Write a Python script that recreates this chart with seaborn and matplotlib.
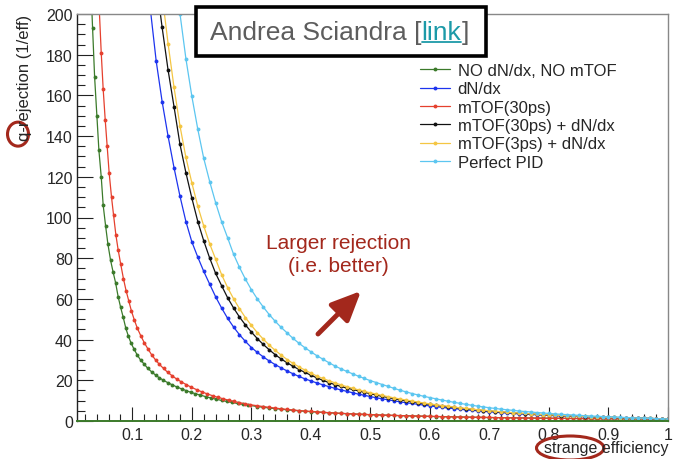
import matplotlib
matplotlib.use("Agg")
import matplotlib.pyplot as plt
import seaborn as sns
from matplotlib.patches import Ellipse, Rectangle
from matplotlib.lines import Line2D
from matplotlib.ticker import MultipleLocator

# ---- data ----
SERIES_NAMES = ["NO dN/dx, NO mTOF", "dN/dx", "mTOF(30ps)",
                "mTOF(30ps) + dN/dx", "mTOF(3ps) + dN/dx", "Perfect PID"]
SERIES_COLORS = ["#3b7a2a", "#1d34ee", "#e5402e", "#111111", "#f4c643", "#5cc6f0"]

# common fine efficiency grid (0.13 ... 1.00)
EFF_FINE = [0.13, 0.14, 0.15, 0.16, 0.17, 0.18, 0.19, 0.20, 0.21, 0.22,
            0.23, 0.24, 0.25, 0.26, 0.27, 0.28, 0.29, 0.30, 0.31, 0.32,
            0.33, 0.34, 0.35, 0.36, 0.37, 0.38, 0.39, 0.40, 0.41, 0.42,
            0.43, 0.44, 0.45, 0.46, 0.47, 0.48, 0.49, 0.50, 0.51, 0.52,
            0.53, 0.54, 0.55, 0.56, 0.57, 0.58, 0.59, 0.60, 0.61, 0.62,
            0.63, 0.64, 0.65, 0.66, 0.67, 0.68, 0.69, 0.70, 0.71, 0.72,
            0.73, 0.74, 0.75, 0.76, 0.77, 0.78, 0.79, 0.80, 0.81, 0.82,
            0.83, 0.84, 0.85, 0.86, 0.87, 0.88, 0.89, 0.90, 0.91, 0.92,
            0.93, 0.94, 0.95, 0.96, 0.97, 0.98, 0.99, 1.00]

green_head_eff = [0.0318, 0.0332, 0.0366, 0.0404, 0.0438, 0.0477, 0.0510, 0.0550,
                  0.0589, 0.0634, 0.0678, 0.0718, 0.0762, 0.0802, 0.0846, 0.0891,
                  0.0930, 0.0975, 0.1025, 0.1081, 0.1137, 0.1198, 0.1255, 0.1322,
                  0.1389, 0.1450, 0.1523, 0.1591, 0.1668, 0.1742, 0.1826, 0.1909,
                  0.1982, 0.2060, 0.2145, 0.2230, 0.2320, 0.2410, 0.2500, 0.2590,
                  0.2680, 0.2770, 0.2860, 0.2950]
green_head_rej = [203, 193, 169, 150, 133, 120, 106, 96,
                  87, 79, 73, 68, 61, 56, 51, 45.5,
                  42, 38.5, 35.5, 32.5, 30, 28, 26, 24.2,
                  22.6, 21.3, 20, 18.9, 17.8, 16.8, 15.8, 14.9,
                  14.1, 13.4, 12.7, 12.0, 11.3, 10.7, 10.1, 9.6,
                  9.1, 8.6, 8.2, 7.8]
green_tail_rej = [7.1, 6.75, 6.4, 6.1, 5.8, 5.5, 5.25, 5.0, 4.78, 4.58,
                  4.39, 4.2, 4.03, 3.87, 3.72, 3.58, 3.44, 3.32, 3.2, 3.09,
                  2.99, 2.89, 2.8, 2.71, 2.63, 2.55, 2.47, 2.4, 2.33, 2.26,
                  2.19, 2.13, 2.07, 2.01, 1.95, 1.9, 1.85, 1.8, 1.75, 1.7,
                  1.66, 1.62, 1.58, 1.54, 1.5, 1.47, 1.43, 1.4, 1.37, 1.34,
                  1.31, 1.28, 1.26, 1.23, 1.21, 1.18, 1.16, 1.14, 1.12, 1.1,
                  1.08, 1.06, 1.05, 1.04, 1.03, 1.02, 1.01, 1.0, 1.0, 1.0]

red_head_eff = [0.0440, 0.0477, 0.0510, 0.0544, 0.0577, 0.0610, 0.0650, 0.0685,
                0.0723, 0.0762, 0.0805, 0.0850, 0.0895, 0.0940, 0.0985, 0.1035,
                0.1085, 0.1140, 0.1200, 0.1260, 0.1325, 0.1390, 0.1455, 0.1525,
                0.1595, 0.1670, 0.1745, 0.1825, 0.1905, 0.1990, 0.2080, 0.2170,
                0.2260, 0.2350, 0.2440, 0.2530, 0.2620, 0.2710, 0.2800, 0.2890,
                0.2980]
red_head_rej = [205, 181, 163, 148, 135, 122, 110, 101,
                91.5, 84, 77, 70, 64, 59, 54, 49.5,
                45.5, 42, 38.5, 35.5, 32.5, 30, 27.8, 25.8,
                23.9, 22.2, 20.6, 19.2, 17.9, 16.6, 15.4, 14.3,
                13.3, 12.4, 11.6, 10.9, 10.2, 9.6, 9.0, 8.5,
                8.0]
red_tail_rej = [7.5, 7.1, 6.7, 6.35, 6.0, 5.7, 5.4, 5.15, 4.9, 4.7,
                4.5, 4.3, 4.12, 3.95, 3.8, 3.65, 3.5, 3.38, 3.26, 3.15,
                3.05, 2.95, 2.85, 2.76, 2.67, 2.59, 2.51, 2.43, 2.36, 2.29,
                2.22, 2.16, 2.1, 2.04, 1.98, 1.93, 1.88, 1.83, 1.78, 1.73,
                1.69, 1.65, 1.61, 1.57, 1.53, 1.5, 1.46, 1.43, 1.4, 1.37,
                1.34, 1.31, 1.28, 1.26, 1.23, 1.21, 1.18, 1.16, 1.14, 1.12,
                1.1, 1.08, 1.06, 1.05, 1.04, 1.03, 1.02, 1.01, 1.0, 1.0]

# dN/dx, from eff = 0.13
blue_rej = [203, 177, 157, 140, 124.5, 110.5, 98, 88, 80.5, 73.5,
            67.2, 61, 55.5, 50.5, 46.2, 42.4, 39.1, 36.1, 33.7, 31.5,
            29.5, 27.7, 26.1, 24.6, 23.2, 21.9, 20.7, 19.7, 18.7, 17.8,
            16.9, 16.1, 15.3, 14.6, 13.9, 13.2, 12.6, 12.0, 11.4, 10.9,
            10.4, 9.9, 9.4, 9.0, 8.6, 8.2, 7.8, 7.4, 7.05, 6.7,
            6.4, 6.1, 5.8, 5.5, 5.25, 5.0, 4.75, 4.5, 4.3, 4.1,
            3.9, 3.7, 3.5, 3.35, 3.2, 3.05, 2.9, 2.75, 2.6, 2.5,
            2.4, 2.3, 2.2, 2.1, 2.0, 1.9, 1.82, 1.75, 1.68, 1.6,
            1.52, 1.45, 1.38, 1.3, 1.22, 1.15, 1.08, 1.0]
# mTOF(30ps) + dN/dx, from eff = 0.14
black_rej = [216, 193.5, 172.5, 154.5, 136, 122, 109.5, 98, 88.5, 80, 72.5,
             66.5, 60.6, 55.6, 51.1, 47.2, 43.7, 40.5, 37.6, 35.0, 32.6,
             30.5, 28.6, 26.9, 25.3, 23.9, 22.5, 21.2, 20.0, 18.9, 17.9,
             17.0, 16.2, 15.5, 14.8, 14.1, 13.4, 12.75, 12.1, 11.5, 10.95,
             10.4, 9.9, 9.45, 9.0, 8.55, 8.15, 7.75, 7.35, 7.0, 6.65,
             6.3, 6.0, 5.7, 5.4, 5.15, 4.9, 4.65, 4.4, 4.2, 4.0,
             3.8, 3.6, 3.42, 3.25, 3.1, 2.95, 2.8, 2.67, 2.55, 2.43,
             2.32, 2.21, 2.1, 2.0, 1.9, 1.82, 1.74, 1.66, 1.58, 1.5,
             1.42, 1.34, 1.26, 1.17, 1.09, 1.0]
# mTOF(3ps) + dN/dx, from eff = 0.15
yellow_rej = [209.5, 185.5, 164, 145, 129.5, 117, 105.5, 95.8, 87, 79.5,
              71.9, 65.6, 60.1, 55.2, 50.8, 47.0, 43.4, 40.2, 37.3, 34.7,
              32.4, 30.2, 28.3, 26.6, 25.0, 23.5, 22.1, 20.9, 19.8, 18.8,
              17.8, 16.9, 16.1, 15.3, 14.55, 13.85, 13.2, 12.55, 11.95, 11.35,
              10.8, 10.3, 9.8, 9.3, 8.85, 8.4, 8.0, 7.6, 7.22, 6.86,
              6.5, 6.18, 5.87, 5.57, 5.3, 5.04, 4.79, 4.54, 4.32, 4.1,
              3.9, 3.7, 3.52, 3.35, 3.18, 3.03, 2.88, 2.74, 2.61, 2.49,
              2.37, 2.26, 2.15, 2.04, 1.94, 1.85, 1.76, 1.68, 1.6, 1.52,
              1.44, 1.35, 1.27, 1.18, 1.09, 1.0]
# Perfect PID, from eff = 0.17
cyan_rej = [222, 200.2, 178, 159.5, 143.3, 129, 117.6, 107.2, 97.9, 90.1,
            82, 75.5, 69.7, 64.5, 60.0, 56.0, 52.3, 49.0, 46.0, 43.3,
            40.6, 38.2, 36.0, 34.0, 32.1, 30.4, 28.7, 27.1, 25.7, 24.4,
            23.2, 22.0, 20.9, 19.8, 18.9, 17.9, 17.0, 16.0, 15.1, 14.3,
            13.5, 12.8, 12.1, 11.5, 10.9, 10.3, 9.75, 9.2, 8.7, 8.2,
            7.75, 7.3, 6.9, 6.5, 6.15, 5.8, 5.5, 5.2, 4.9, 4.65,
            4.4, 4.15, 3.92, 3.7, 3.5, 3.3, 3.12, 2.95, 2.78, 2.62,
            2.47, 2.33, 2.19, 2.06, 1.94, 1.82, 1.71, 1.6, 1.5, 1.4,
            1.3, 1.2, 1.1, 1.0]

X_TICKS = [0.1, 0.2, 0.3, 0.4, 0.5, 0.6, 0.7, 0.8, 0.9, 1.0]
X_TICK_LABELS = ["0.1", "0.2", "0.3", "0.4", "0.5", "0.6", "0.7", "0.8", "0.9", "1"]
Y_TICKS = [0, 20, 40, 60, 80, 100, 120, 140, 160, 180, 200]

W, H = 673, 460
DARK_RED = "#a3281c"


def fig_xy(x, y):
    """pixel position (from top-left) -> figure fraction"""
    return x / W, 1 - y / H


sns.set_style("ticks")
plt.rcParams["font.family"] = ["Liberation Sans", "DejaVu Sans"]

fig = plt.figure(figsize=(W / 100, H / 100), dpi=100)
ax = fig.add_axes([77 / W, 1 - 422 / H, (668 - 77) / W, (422 - 15) / H])

curves = [
    (green_head_eff + EFF_FINE[18:], green_head_rej + green_tail_rej),
    (EFF_FINE, blue_rej),
    (red_head_eff + EFF_FINE[18:], red_head_rej + red_tail_rej),
    (EFF_FINE[1:], black_rej),
    (EFF_FINE[2:], yellow_rej),
    (EFF_FINE[4:], cyan_rej),
]
for name, color, (eff, rej) in zip(SERIES_NAMES, SERIES_COLORS, curves):
    sns.lineplot(x=eff, y=rej, ax=ax, color=color, lw=0.9, marker="o",
                 markersize=2.8, markeredgewidth=0, label=name,
                 estimator=None, sort=False)

ax.set_xlim(0.007, 1.0)
ax.set_ylim(0, 200)
ax.set_xticks(X_TICKS)
ax.set_xticklabels(X_TICK_LABELS)
ax.set_yticks(Y_TICKS)
ax.xaxis.set_minor_locator(MultipleLocator(0.02))
ax.yaxis.set_minor_locator(MultipleLocator(5))
ax.tick_params(which="both", direction="in", top=False, right=False,
               labelsize=11.5, color="#222222", width=0.8)
ax.tick_params(axis="y", which="major", length=11.5, pad=3)
ax.tick_params(axis="y", which="minor", length=5.8)
ax.tick_params(axis="x", which="major", length=10, pad=4)
ax.tick_params(axis="x", which="minor", length=5)
ax.set_xlabel("")
ax.set_ylabel("")

for side in ["top", "right"]:
    ax.spines[side].set_visible(True)
    ax.spines[side].set_color("#888888")
    ax.spines[side].set_linewidth(1.0)
ax.spines["left"].set_color("#222222")
ax.spines["left"].set_linewidth(1.0)
ax.spines["bottom"].set_color(SERIES_COLORS[0])
ax.spines["bottom"].set_linewidth(1.4)

handles, labels = ax.get_legend_handles_labels()
ax.legend(handles, labels, loc="upper left", bbox_to_anchor=fig_xy(420, 64),
          bbox_transform=fig.transFigure, frameon=False, fontsize=12,
          handlelength=1.8, handletextpad=0.45, labelspacing=0.2,
          borderpad=0, borderaxespad=0, numpoints=1)

# axis titles (ROOT style, aligned to the axis ends)
ylab = fig.text(*fig_xy(25, 15), "q-rejection (1/eff)", rotation=90,
                ha="center", va="top", fontsize=12)
xlab = fig.text(*fig_xy(668, 449), "strange efficiency", ha="right",
                va="center", fontsize=11.5)

# title box
fig.add_artist(Rectangle(fig_xy(196, 57), 290 / W, 49 / H, transform=fig.transFigure,
                         facecolor="white", edgecolor="black", lw=2.6, zorder=5))
t1 = fig.text(*fig_xy(210, 40), "Andrea Sciandra [", color="#5d5d5d",
              fontsize=19, va="baseline", ha="left", zorder=6)

fig.canvas.draw()
renderer = fig.canvas.get_renderer()
bb1 = t1.get_window_extent(renderer)
t2 = fig.text(bb1.x1 / W, 1 - 40 / H, "link", color="#1c9aa8", fontsize=19,
              va="baseline", ha="left", zorder=6)
fig.canvas.draw()
bb2 = t2.get_window_extent(renderer)
fig.text(bb2.x1 / W, 1 - 40 / H, "]", color="#5d5d5d", fontsize=19,
         va="baseline", ha="left", zorder=6)
fig.add_artist(Line2D([bb2.x0 / W, bb2.x1 / W], [(H - 43) / H, (H - 43) / H],
                      transform=fig.transFigure, color="#1c9aa8", lw=1.3, zorder=6))

# hand-drawn circles
bby = ylab.get_window_extent(renderer)
fig.add_artist(Ellipse(((bby.x0 + bby.x1) / 2 / W - 7 / W, (bby.y0 + 6) / H),
                       21 / W, 24 / H, transform=fig.transFigure, fill=False,
                       edgecolor=DARK_RED, lw=2.2))
bbx = xlab.get_window_extent(renderer)
tmp = fig.text(0, 0, "strange", fontsize=11.5)
w_strange = tmp.get_window_extent(renderer).width
tmp.remove()
fig.add_artist(Ellipse(((bbx.x0 + w_strange / 2) / W, (bbx.y0 + bbx.y1) / 2 / H),
                       (w_strange + 14) / W, 24 / H, transform=fig.transFigure,
                       fill=False, edgecolor=DARK_RED, lw=2.2))

# annotation
fig.text(*fig_xy(338, 255), "Larger rejection\n(i.e. better)", ha="center",
         va="center", fontsize=15, color=DARK_RED, linespacing=1.2)
ax.annotate("", xy=(363, H - 290), xycoords="figure pixels",
            xytext=(316, H - 337), textcoords="figure pixels",
            arrowprops=dict(arrowstyle="-|>,head_length=1.0,head_width=0.45",
                            lw=3.5, color=DARK_RED, mutation_scale=18))

fig.savefig("out.png", dpi=100)
